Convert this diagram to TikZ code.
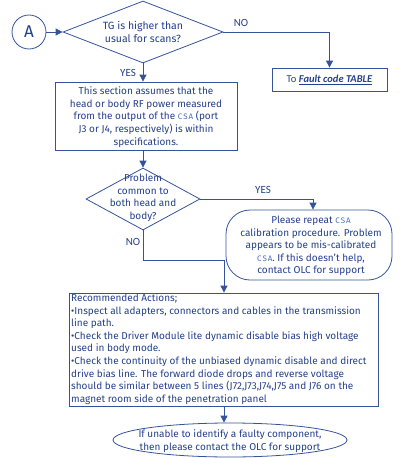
\documentclass[tikz,border=0pt]{standalone}
\usepackage{fontspec}
\setmainfont{Fira Sans}
\newfontfamily\labfont{Carlito}
\usetikzlibrary{shapes.geometric,arrows.meta}
\definecolor{txtblue}{HTML}{24408A}
\definecolor{lineblue}{HTML}{34539A}
\definecolor{csablue}{HTML}{4A6FC0}
\newcommand{\csa}{{\color{csablue}\fontsize{8}{9}\selectfont\addfontfeature{LetterSpace=12}CSA}}
\begin{document}
\begin{tikzpicture}[x=1pt,y=-1pt,
  every node/.style={text=txtblue},
  ln/.style={draw=lineblue,line width=0.8pt},
  arr/.style={ln,-{Triangle[width=7pt,length=7pt]}},
  dia/.style={diamond,draw=lineblue,line width=0.8pt,inner sep=0pt},
  txt/.style={font=\fontsize{10}{12.6}\selectfont,align=center,inner sep=0pt},
  dtxt/.style={font=\fontsize{10.5}{12.6}\selectfont,align=center,inner sep=0pt},
  lab/.style={font=\labfont\fontsize{11}{13}\selectfont,inner sep=0pt},
  boxx/.style={draw=lineblue,line width=0.8pt,rectangle,inner sep=0pt}]
\useasboundingbox (0,0) rectangle (400,458);
% A circle
\node[circle,draw=lineblue,line width=0.8pt,minimum size=34pt,inner sep=0pt,font=\fontsize{17}{18}\selectfont] (A) at (29,32) {A};
% diamond 1
\node[dia,minimum width=160pt,minimum height=62pt] (d1) at (143,32) {};
\node[dtxt] (d1t) at (143,32) {TG is higher than\\usual for scans?};
% fault box
\node[boxx,minimum width=115pt,minimum height=23pt] (fault) at (329.5,79.5) {};
\node[font=\labfont\fontsize{10.5}{12}\selectfont,inner sep=0pt] (faultt) at (329.5,80) {To \textbf{\textit{\underline{Fault code TABLE}}}};
% box 2
\node[boxx,minimum width=182pt,minimum height=68pt] (b2) at (146,116) {};
\node[txt] (b2t) at (146,117) {This section assumes that the\\head or body RF power measured\\from the output of the \csa{} (port\hspace{1.2em}\\J3 or J4, respectively) is within\\specifications.};
% diamond 2
\node[dia,minimum width=114pt,minimum height=62pt] (d2) at (143,199) {};
\node[txt] (d2t) at (143,198) {Problem\\common to\\both head and\\body?};
% rounded box
\node[draw=lineblue,line width=0.8pt,rectangle,rounded corners=24pt,minimum width=166pt,minimum height=70pt,inner sep=0pt] (rb) at (309,245) {};
\node[txt] (rbt) at (311,246) {Please repeat \csa\\calibration procedure. Problem\\appears to be mis-calibrated\\\csa. If this doesn't help,\\contact OLC for support};
% box 3
\node[boxx,minimum width=309pt,minimum height=113pt] (b3) at (223.5,349.5) {};
\node[txt,align=left,anchor=north west] (b3t) at (71,293.5) {Recommended Actions;\\
•Inspect all adapters, connectors and cables in the transmission\\
line path.\\
•Check the Driver Module lite dynamic disable bias high voltage\\
used in body mode.\\
•Check the continuity of the unbiased dynamic disable and direct\\
drive bias line. The forward diode drops and reverse voltage\\
should be similar between 5 lines (J72,J73,J74,J75 and J76 on the\\
magnet room side of the penetration panel};
% ellipse
\node[ellipse,draw=lineblue,line width=0.8pt,minimum width=234pt,minimum height=34pt,inner sep=0pt] (el) at (230,440) {};
\node[txt] (elt) at (230,441) {If unable to identify a faulty component,\\then please contact the OLC for support};
% labels
\node[lab] (no1) at (241,23) {NO};
\node[lab] (yes1) at (128,73) {YES};
\node[lab] (yes2) at (263,190) {YES};
\node[lab] (no2) at (133,242) {NO};
% connectors
\draw[arr] (A) -- (d1.west);
\draw[arr] (d1.east) -| (fault.north);
\draw[arr] (d1.south) -- (d1.south |- b2.north);
\draw[arr] (d1.south |- b2.south) -- (d2.north);
\coordinate (rbin) at (313,0);
\draw[arr] (d2.east) -| (rbin |- rb.north);
\coordinate (b3in) at (224,0);
\coordinate (mid) at (0,260);
\draw[arr] (d2.south) -- (d2.south |- mid) -| (b3in |- b3.north);
\draw[arr] (b3in |- b3.south) -- (b3in |- el.north);
\end{tikzpicture}
\end{document}
